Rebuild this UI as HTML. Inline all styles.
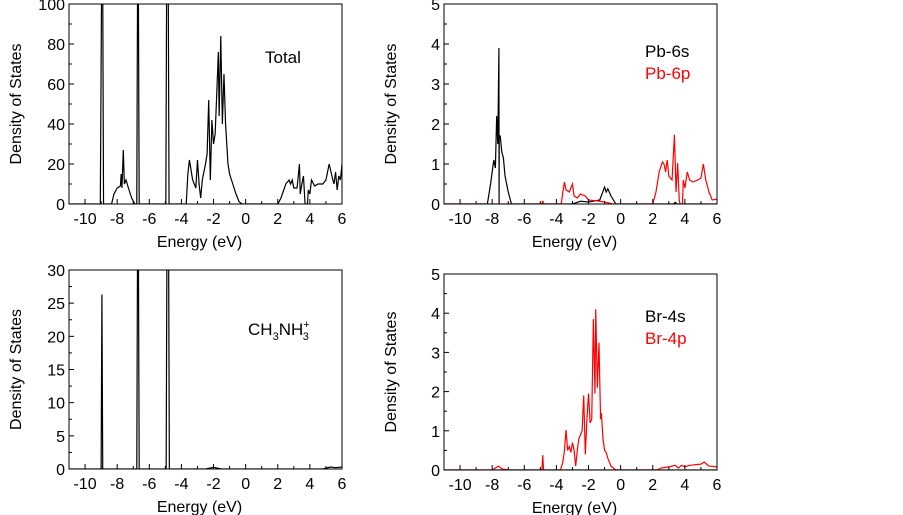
<!DOCTYPE html>
<html><head><meta charset="utf-8">
<style>
html,body{margin:0;padding:0;background:#fff;}
svg{display:block;font-family:"Liberation Sans",Arial,sans-serif;}
</style></head>
<body>
<svg id="chart" width="903" height="515" viewBox="0 0 903 515"></svg>
<script>
// ---------- data ----------
const xTicks = [-10,-8,-6,-4,-2,0,2,4,6];
const totalTicks = [0,20,40,60,80,100];
const ch3Ticks = [0,5,10,15,20,25,30];
const pdosTicks = [0,1,2,3,4,5];

const totalE = [-11,-9.05,-8.97,-8.9,-8.85,-8.35,-8.2,-8.0,-7.8,-7.75,-7.7,-7.62,-7.55,-7.45,-7.3,-7.1,-6.9,-6.78,-6.73,-6.68,-6.63,-4.97,-4.92,-4.82,-4.77,-3.7,-3.6,-3.5,-3.4,-3.3,-3.1,-3.0,-2.9,-2.8,-2.7,-2.5,-2.4,-2.3,-2.2,-2.1,-2.0,-1.9,-1.8,-1.7,-1.65,-1.55,-1.45,-1.35,-1.25,-1.1,-1.0,-0.8,-0.6,-0.4,-0.2,2.0,2.2,2.5,2.7,2.8,2.9,3.0,3.2,3.35,3.4,3.5,3.6,3.7,3.85,3.9,4.0,4.1,4.3,4.5,4.8,5.0,5.2,5.4,5.5,5.6,5.7,5.8,5.9,6.0];
const totalV = [0,0,110,110,0,0,5,8,9,15,8,27,10,12,8,3,0,0,110,110,0,0,110,110,0,0,15,22,17,12,8,22,10,3,12,20,25,52,12,42,30,35,55,76,44,84,40,65,40,20,15,10,5,1,0,0,3,10,12,10,12,8,8,20,5,10,14,0,0,7,5,12,9,10,10,12,20,13,10,16,7,14,12,20];

const pb6sE = [-11,-8.3,-8.1,-7.9,-7.8,-7.72,-7.65,-7.58,-7.57,-7.56,-7.5,-7.4,-7.3,-7.2,-7.0,-6.8,-3.0,-2.5,-2.0,-1.3,-1.0,-0.9,-0.8,-0.6,-0.3,3.3,3.4,3.5,6];
const pb6sV = [0,0,0.5,1.1,0.9,2.2,1.5,3.9,0,1.7,1.7,1.3,1.15,0.7,0.3,0,0,0.07,0.05,0.1,0.42,0.3,0.38,0.2,0,0,0.04,0,0];
const pb6pE = [-11,-4.9,-4.85,-4.8,-3.7,-3.6,-3.5,-3.4,-3.2,-3.0,-2.9,-2.7,-2.5,-2.2,-2.0,-1.5,-1.0,-0.5,2.0,2.2,2.4,2.6,2.7,2.8,2.9,3.0,3.2,3.35,3.45,3.55,3.65,3.7,3.85,3.9,4.0,4.15,4.3,4.5,4.8,5.0,5.15,5.3,5.5,5.7,6.0];
const pb6pV = [0,0,0.08,0,0,0.3,0.55,0.35,0.3,0.5,0.2,0.15,0.25,0.2,0.1,0.08,0.05,0,0,0.3,0.8,1.05,1.0,0.8,1.1,0.7,0.6,1.73,0.3,1.02,0.1,0,0,0.6,0.4,0.8,0.6,0.55,0.6,0.65,1.0,0.6,0.3,0.1,0.12];

const ch3E = [-11,-9.0,-8.95,-8.9,-6.78,-6.73,-6.68,-6.63,-4.95,-4.9,-4.8,-4.75,-2.5,-2.0,-1.5,4.8,5.3,5.6,6];
const ch3V = [0,0,26.3,0,0,35,35,0,0,35,35,0,0,0.25,0,0,0.3,0.2,0.3];

const br4sE = [-11,6];
const br4sV = [0,0];
const br4pE = [-11,-8.0,-7.8,-7.6,-7.4,-7.0,-4.9,-4.85,-4.8,-3.75,-3.6,-3.5,-3.4,-3.3,-3.2,-3.1,-3.0,-2.9,-2.8,-2.7,-2.6,-2.5,-2.4,-2.3,-2.2,-2.1,-2.0,-1.9,-1.8,-1.7,-1.6,-1.55,-1.45,-1.35,-1.25,-1.2,-1.1,-1.0,-0.9,-0.8,-0.6,-0.3,2.3,2.5,3.0,3.4,3.6,3.8,4.0,4.3,5.0,5.2,5.5,6];
const br4pV = [0,0,0.05,0.1,0.03,0,0,0.38,0,0,0.2,0.5,1.02,0.5,0.6,0.45,0.7,0.5,0.1,0.5,0.8,0.9,1.0,1.9,0.4,1.3,1.95,1.2,1.3,3.85,1.95,4.1,2.1,3.25,1.3,1.45,0.8,0.5,0.45,0.3,0.1,0,0,0.05,0.08,0.12,0.05,0.12,0.08,0.12,0.15,0.2,0.1,0.08];

// ---------- drawing ----------
const NS = "http://www.w3.org/2000/svg";
const svg = document.getElementById('chart');
function mk(tag, attrs, parent){
  const e = document.createElementNS(NS, tag);
  for (const k in attrs) e.setAttribute(k, attrs[k]);
  (parent||svg).appendChild(e);
  return e;
}
let clipId = 0;
function panel(name, L, T, R, B, yMax, yTicks, yMinorStep, series, legend){
  const g = mk('g', {});
  
  
  const xs = v => L + (v + 11) / 17 * (R - L);
  const ys = v => B - v / yMax * (B - T);
  const cid = 'c' + (clipId++);
  const cp = mk('clipPath', {id: cid}, g);
  mk('rect', {x: L, y: T, width: R - L, height: B - T}, cp);
  series.forEach(s => {
    const pts = s.e.map((e, i) => xs(e).toFixed(2) + ',' + ys(s.v[i]).toFixed(2)).join(' ');
    const pl = mk('polyline', {points: pts, fill: 'none', stroke: s.color, 'stroke-width': 1.2, 'clip-path': 'url(#' + cid + ')'}, g);
    
    
  });
  const fr = mk('rect', {x: L, y: T, width: R - L, height: B - T, fill: 'none', stroke: '#000', 'stroke-width': 1}, g);
  
  
  for (let v = -11; v <= 6; v++) {
    const major = xTicks.includes(v);
    mk('line', {x1: xs(v), x2: xs(v), y1: B, y2: B - (major ? 5 : 3), stroke: '#000', 'stroke-width': 1}, g);
  }
  xTicks.forEach(v => {
    const t = mk('text', {x: xs(v), y: B + 20, 'font-size': 16, 'text-anchor': 'middle'}, g);
    t.textContent = v;
    
    
  });
  for (let v = 0; v <= yMax + 1e-9; v += yMinorStep) {
    const major = yTicks.some(t => Math.abs(t - v) < 1e-9);
    mk('line', {x1: L, x2: L + (major ? 5 : 3), y1: ys(v), y2: ys(v), stroke: '#000', 'stroke-width': 1}, g);
  }
  yTicks.forEach(v => {
    const t = mk('text', {x: L - 4, y: ys(v) + 6, 'font-size': 16, 'text-anchor': 'end'}, g);
    t.textContent = v;
    
    
  });
  const xt = mk('text', {x: (L + R) / 2 - 6, y: B + 43, 'font-size': 16, 'text-anchor': 'middle'}, g);
  xt.textContent = 'Energy (eV)';
  
  
  const cy = (T + B) / 2;
  const ax = L - 48;
  const yt = mk('text', {x: ax, y: cy, 'font-size': 16, 'text-anchor': 'middle', transform: 'rotate(-90 ' + ax + ' ' + cy + ')'}, g);
  yt.textContent = 'Density of States';
  
  
  legend(g);
}
function txt(g, x, y, s, color, name){
  const t = mk('text', {x: x, y: y, 'font-size': 17, fill: color}, g);
  t.textContent = s;
  
  
  return t;
}

panel('panel-total', 69, 4, 342, 204, 100, totalTicks, 10,
  [{name: 'total-dos-line', e: totalE, v: totalV, color: '#000'}],
  g => txt(g, 265, 63, 'Total', '#000', 'legend-total'));

panel('panel-pb', 444, 4, 717, 204, 5, pdosTicks, 0.5,
  [{name: 'pb-6s-line', e: pb6sE, v: pb6sV, color: '#000'},
   {name: 'pb-6p-line', e: pb6pE, v: pb6pV, color: '#ff0000'}],
  g => { txt(g, 645, 57, 'Pb-6s', '#000', 'legend-pb-6s'); txt(g, 645, 79, 'Pb-6p', '#ff0000', 'legend-pb-6p'); });

panel('panel-ch3nh3', 69, 270, 342, 469, 30, ch3Ticks, 2.5,
  [{name: 'ch3nh3-dos-line', e: ch3E, v: ch3V, color: '#000'}],
  g => {
    const t = mk('text', {x: 248, y: 335, 'font-size': 17}, g);
    
    
    t.innerHTML = 'CH<tspan font-size="11" dy="5">3</tspan><tspan dy="-5">NH</tspan><tspan font-size="11" dy="-7">+</tspan><tspan font-size="11" dx="-7" dy="12">3</tspan>';
  });

panel('panel-br', 444, 274, 717, 470, 5, pdosTicks, 0.5,
  [{name: 'br-4s-line', e: br4sE, v: br4sV, color: '#000'},
   {name: 'br-4p-line', e: br4pE, v: br4pV, color: '#ff0000'}],
  g => { txt(g, 645, 322, 'Br-4s', '#000', 'legend-br-4s'); txt(g, 645, 344, 'Br-4p', '#ff0000', 'legend-br-4p'); });
</script>
</body></html>
